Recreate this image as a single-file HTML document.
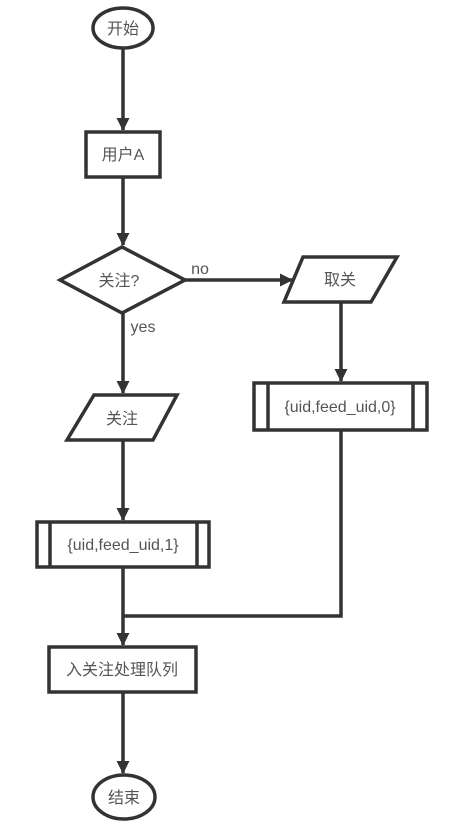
<!DOCTYPE html>
<html><head><meta charset="utf-8"><style>html,body{margin:0;padding:0;background:#fff;width:463px;height:827px;overflow:hidden}</style></head>
<body>
<svg width="463" height="827" viewBox="0 0 463 827" xmlns="http://www.w3.org/2000/svg" font-family="'Liberation Sans','Noto Sans CJK SC',sans-serif" font-size="16" fill="#555">
<defs><marker id="a" markerWidth="14" markerHeight="14" refX="12" refY="6.5" orient="auto" markerUnits="userSpaceOnUse"><path d="M0,0 L13,6.5 L0,13 z" fill="#333"/></marker></defs>
<g stroke="#333" stroke-width="3.5" fill="none">
<line x1="123" y1="48" x2="123" y2="130" marker-end="url(#a)"/>
<line x1="123" y1="177" x2="123" y2="245" marker-end="url(#a)"/>
<line x1="185" y1="280" x2="292" y2="280" marker-end="url(#a)"/>
<line x1="123" y1="313" x2="123" y2="393" marker-end="url(#a)"/>
<line x1="341" y1="302" x2="341" y2="381" marker-end="url(#a)"/>
<line x1="123" y1="440" x2="123" y2="520" marker-end="url(#a)"/>
<line x1="123" y1="567" x2="123" y2="645" marker-end="url(#a)"/>
<polyline points="341,430 341,616 123,616"/>
<line x1="123" y1="692" x2="123" y2="773" marker-end="url(#a)"/>
</g>
<g stroke="#333" stroke-width="3.5" fill="#fff">
<ellipse cx="123" cy="28" rx="30" ry="20"/>
<rect x="86" y="132" width="74" height="45"/>
<polygon points="60,280 122,247 185,280 122,313"/>
<polygon points="303,257 397,257 371,302 284,302"/>
<rect x="254" y="383" width="173" height="47"/>
<line x1="268" y1="383" x2="268" y2="430"/><line x1="413" y1="383" x2="413" y2="430"/>
<polygon points="94,395 177,395 153,440 67,440"/>
<rect x="37" y="522" width="172" height="45"/>
<line x1="50" y1="522" x2="50" y2="567"/><line x1="197" y1="522" x2="197" y2="567"/>
<rect x="49" y="647" width="147" height="45"/>
<ellipse cx="124" cy="797" rx="31" ry="22"/>
</g>
<g text-anchor="middle">
<text x="123" y="34">开始</text>
<text x="123" y="160">用户A</text>
<text x="119" y="286">关注?</text>
<text x="200" y="274">no</text>
<text x="143" y="332">yes</text>
<text x="340" y="285">取关</text>
<text x="340" y="412">{uid,feed_uid,0}</text>
<text x="122" y="424">关注</text>
<text x="123" y="550">{uid,feed_uid,1}</text>
<text x="122" y="675">入关注处理队列</text>
<text x="124" y="803">结束</text>
</g>
</svg>
</body></html>
